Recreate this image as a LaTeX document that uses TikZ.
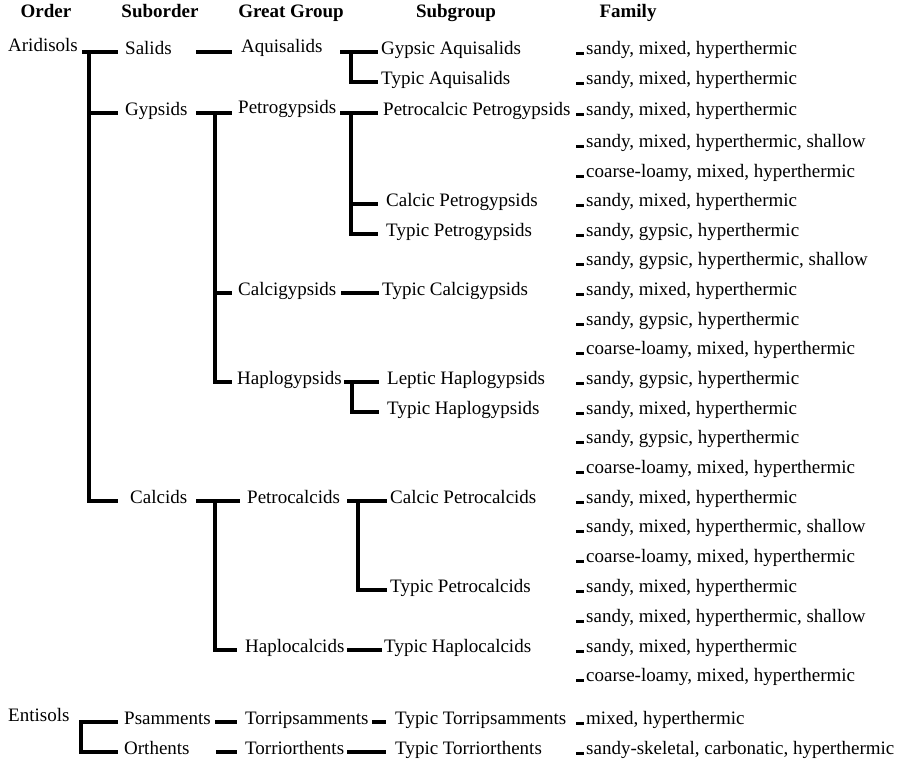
\documentclass[tikz,border=0pt]{standalone}
\usepackage{fontspec}
\setmainfont{Liberation Serif}
\usepackage{tikz}
\usetikzlibrary{positioning}
\newcommand{\soilfont}{\fontsize{19}{23}\selectfont}
\tikzset{
  soil/.style={anchor=west, inner sep=0pt, font=\soilfont, text height=1.5ex, text depth=.5ex},
  head/.style={inner sep=0pt, font=\soilfont\bfseries, text height=1.5ex, text depth=.5ex},
  link/.style={line width=3.3pt, shorten >=#1},
  link/.default=6pt,
  tick/.style={line width=3.3pt}
}

\begin{document}
\begin{tikzpicture}[x=1pt, y=-1pt]
    \useasboundingbox (0,0) rectangle (898,765);
    % column heads
    \node[head]	(order)	at	(46,15)	{Order};
    \node[head]	(suborder)	at	(160,15)	{Suborder};
    \node[head]	(greatgroup)	at	(291,15)	{Great Group};
    \node[head]	(subgroup)	at	(456,15)	{Subgroup};
    \node[head]	(family)	at	(628,15)	{Family};

    % order
    \node[soil]	(aridisols)	at	(8,49)	{Aridisols};
    \node[soil]	(entisols)	at	(8,719)	{Entisols};

    % suborder
    \node[soil]	(salids)	at	(125,52)	{Salids};
    \node[soil]	(gypsids)	at	(125,113)	{Gypsids};
    \node[soil]	(calcids)	at	(130,501)	{Calcids};
    \node[soil]	(psamments)	at	(124,722)	{Psamments};
    \node[soil]	(orthents)	at	(124,752)	{Orthents};

    % great group
    \node[soil]	(aquisalids)	at	(241,50)	{Aquisalids};
    \node[soil]	(petrogypsids)	at	(238,111)	{Petrogypsids};
    \node[soil]	(calcigypsids)	at	(238,293)	{Calcigypsids};
    \node[soil]	(haplogypsids)	at	(237,382)	{Haplogypsids};
    \node[soil]	(petrocalcids)	at	(247,501)	{Petrocalcids};
    \node[soil]	(haplocalcids)	at	(245,650)	{Haplocalcids};
    \node[soil]	(torripsamments)	at	(245,722)	{Torripsamments};
    \node[soil]	(torriorthents)	at	(245,752)	{Torriorthents};

    % subgroup
    \node[soil]	(gypaqui)	at	(381,52)	{Gypsic Aquisalids};
    \node[soil]	(typaqui)	at	(381,82)	{Typic Aquisalids};
    \node[soil]	(pcpetro)	at	(383,113)	{Petrocalcic Petrogypsids};
    \node[soil]	(capetro)	at	(386,204)	{Calcic Petrogypsids};
    \node[soil]	(typetro)	at	(386,234)	{Typic Petrogypsids};
    \node[soil]	(tycalci)	at	(382,293)	{Typic Calcigypsids};
    \node[soil]	(lehaplo)	at	(387,382)	{Leptic Haplogypsids};
    \node[soil]	(tyhaplo)	at	(387,412)	{Typic Haplogypsids};
    \node[soil]	(capcalc)	at	(390,501)	{Calcic Petrocalcids};
    \node[soil]	(typcalc)	at	(390,590)	{Typic Petrocalcids};
    \node[soil]	(thcalc)	at	(384,650)	{Typic Haplocalcids};
    \node[soil]	(ttpsam)	at	(395,722)	{Typic Torripsamments};
    \node[soil]	(ttorth)	at	(395,752)	{Typic Torriorthents};

    % family
    \foreach \y/\txt [count=\i] in {52/{sandy, mixed, hyperthermic}, 82/{sandy, mixed, hyperthermic},
        113/{sandy, mixed, hyperthermic}, 145/{sandy, mixed, hyperthermic, shallow},
        175/{coarse-loamy, mixed, hyperthermic}, 204/{sandy, mixed, hyperthermic},
        234/{sandy, gypsic, hyperthermic}, 263/{sandy, gypsic, hyperthermic, shallow},
        293/{sandy, mixed, hyperthermic}, 323/{sandy, gypsic, hyperthermic},
        352/{coarse-loamy, mixed, hyperthermic}, 382/{sandy, gypsic, hyperthermic},
        412/{sandy, mixed, hyperthermic}, 441/{sandy, gypsic, hyperthermic},
        471/{coarse-loamy, mixed, hyperthermic}, 501/{sandy, mixed, hyperthermic},
        530/{sandy, mixed, hyperthermic, shallow}, 560/{coarse-loamy, mixed, hyperthermic},
        590/{sandy, mixed, hyperthermic}, 620/{sandy, mixed, hyperthermic, shallow},
        650/{sandy, mixed, hyperthermic}, 679/{coarse-loamy, mixed, hyperthermic},
        722/{mixed, hyperthermic}, 752/{sandy-skeletal, carbonatic, hyperthermic}}
    {
        \node[soil]	(f\i)	at	(586,\y)	{\txt};
        \draw[tick] ([xshift=-10pt, yshift=-1.5pt]f\i.west) -- ([xshift=-2pt, yshift=-1.5pt]f\i.west);
    }

    % order to suborder
    \coordinate (ariroot) at (82,52);
    \coordinate (aritrunk) at (89,52);
    \draw[link=7pt] (ariroot) -- (salids.west);
    \draw[link=7pt] (aritrunk) |- (gypsids.west);
    \draw[link=12pt] (aritrunk) |- (calcids.west);

    \coordinate (entjoin) at (81,722);
    \draw[link=6pt, shorten <=6pt] (psamments.west) -- (entjoin) |- (orthents.west);

    % suborder to great group
    \coordinate (salroot) at (196,52);
    \draw[link=9pt] (salroot) -- (salroot -| aquisalids.west);

    \coordinate (gyproot) at (196,113);
    \coordinate (gyptrunk) at (215,113);
    \draw[link] (gyproot) -- (gyproot -| petrogypsids.west);
    \draw[link] (gyptrunk) |- (calcigypsids.west);
    \draw[link=5pt] (gyptrunk) |- (haplogypsids.west);

    \coordinate (calroot) at (196,501);
    \coordinate (caltrunk) at (215,501);
    \draw[link=7pt] (calroot) -- (petrocalcids.west);
    \draw[link=8pt] (caltrunk) |- (haplocalcids.west);

    \coordinate (psaroot) at (215,722);
    \draw[link=8pt] (psaroot) -- (torripsamments.west);
    \coordinate (ortroot) at (216,752);
    \draw[link=8pt] (ortroot) -- (torriorthents.west);

    % great group to subgroup
    \coordinate (aquroot) at (340,52);
    \coordinate (aqutrunk) at (351,52);
    \draw[link=3pt] (aquroot) -- (gypaqui.west);
    \draw[link=3pt] (aqutrunk) |- (typaqui.west);

    \coordinate (petroot) at (340,113);
    \coordinate (pettrunk) at (351,113);
    \draw[link=5pt] (petroot) -- (pcpetro.west);
    \draw[link=8pt] (pettrunk) |- (capetro.west);
    \draw[link=8pt] (pettrunk) |- (typetro.west);

    \coordinate (cgroot) at (341,293);
    \draw[link=3pt] (cgroot) -- (tycalci.west);

    \coordinate (hgroot) at (344,382);
    \coordinate (hgtrunk) at (352,382);
    \draw[link=8pt] (hgroot) -- (lehaplo.west);
    \draw[link=8pt] (hgtrunk) |- (tyhaplo.west);

    \coordinate (pcroot) at (347,501);
    \coordinate (pctrunk) at (358,501);
    \draw[link=3pt] (pcroot) -- (capcalc.west);
    \draw[link=3pt] (pctrunk) |- (typcalc.west);

    \coordinate (hcroot) at (347,650);
    \draw[link=2pt] (hcroot) -- (thcalc.west);

    \coordinate (tproot) at (372,722);
    \draw[link=9pt] (tproot) -- (ttpsam.west);
    \coordinate (toroot) at (347,752);
    \draw[link=9pt] (toroot) -- (ttorth.west);
\end{tikzpicture}
\end{document}
